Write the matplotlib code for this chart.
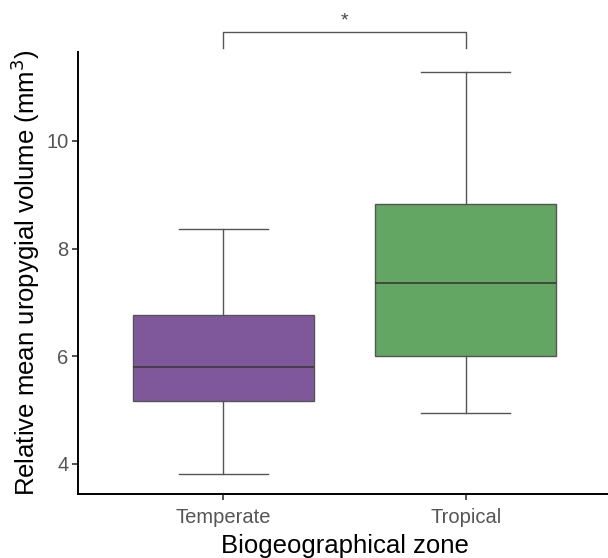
import matplotlib
matplotlib.use("Agg")
import matplotlib.pyplot as plt

plt.rcParams['font.family'] = ['Liberation Sans', 'DejaVu Sans']

categories = ["Temperate", "Tropical"]
whisker_low = [3.81, 4.95]
q1 = [5.17, 6.00]
median = [5.80, 7.35]
q3 = [6.76, 8.83]
whisker_high = [8.355, 11.28]
box_colors = ["#7f589c", "#63a563"]
yticks = [4, 6, 8, 10]
sig_label = "*"

fig = plt.figure(figsize=(6.08, 5.58), dpi=100)
ax = fig.add_axes([78/608, 1-494/558, (611-78)/608, (494-52)/558])

stats = []
for i, c in enumerate(categories):
    stats.append(dict(label=c, whislo=whisker_low[i], q1=q1[i], med=median[i],
                      q3=q3[i], whishi=whisker_high[i], fliers=[]))

line_c = "#555555"
bp = ax.bxp(stats, positions=[1, 2], widths=0.75, patch_artist=True,
            showfliers=False,
            boxprops=dict(edgecolor=line_c, linewidth=1.0),
            medianprops=dict(color="#3a3a3a", linewidth=1.2),
            whiskerprops=dict(color=line_c, linewidth=1.0),
            capprops=dict(color=line_c, linewidth=1.0),
            capwidths=0.37)
for patch, col in zip(bp['boxes'], box_colors):
    patch.set_facecolor(col)

ax.set_xlim(0.4, 2.6)
ax.set_ylim(3.44, 11.65)
ax.set_yticks(yticks)
ax.set_yticklabels([str(t) for t in yticks])
ax.set_xticks([1, 2])
ax.set_xticklabels(categories)

for s in ["top", "right"]:
    ax.spines[s].set_visible(False)
for s in ["left", "bottom"]:
    ax.spines[s].set_linewidth(1.4)
    ax.spines[s].set_color("black")

ax.tick_params(axis="both", length=4, width=1.2, color="#333333",
               labelsize=14.5, labelcolor="#555555", pad=3)
ax.tick_params(axis="x", pad=6)

ax.set_xlabel("Biogeographical zone", fontsize=18.5, color="black", labelpad=5)
ax.set_ylabel("Relative mean uropygial volume (mm$^3$)", fontsize=18.5,
              color="black", labelpad=3)

# significance bracket
yb_top = 12.03
yb_bot = 11.73
ax.plot([1, 1, 2, 2], [yb_bot, yb_top, yb_top, yb_bot], color=line_c,
        linewidth=1.0, clip_on=False)
ax.text(1.5, yb_top + 0.04, sig_label, ha="center", va="bottom",
        fontsize=14, color="#444444", clip_on=False)

fig.savefig("out.png", dpi=100)
